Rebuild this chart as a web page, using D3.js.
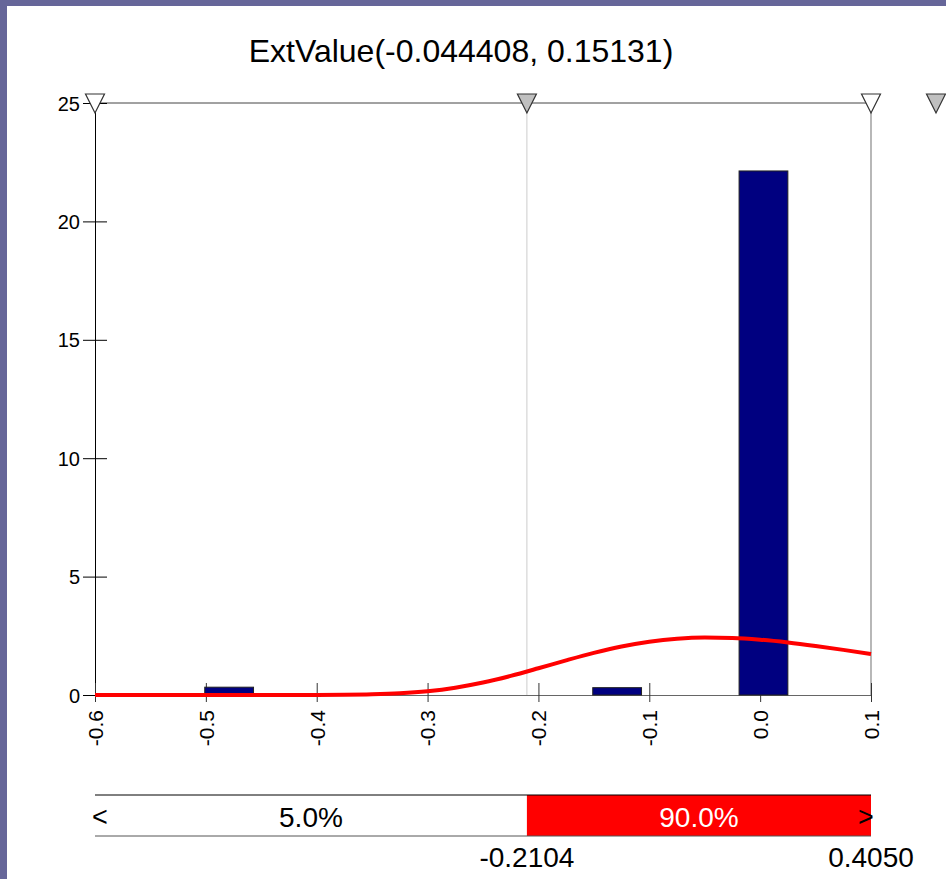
<!DOCTYPE html>
<html>
<head>
<meta charset="utf-8">
<script src="https://cdn.jsdelivr.net/npm/d3@7"></script>
<style>
  body { margin: 0; background: #fff; }
  text { font-family: "Liberation Sans", Arial, sans-serif; }
</style>
</head>
<body>
<div id="chart"></div>
<script>
// data
const title = "ExtValue(-0.044408, 0.15131)";

const binLo = [-0.501, -0.151, -0.019];
const binHi = [-0.457, -0.107, 0.025];
const binDensity = [0.33, 0.31, 22.13];

const curveX = [-0.6, -0.5, -0.45, -0.4, -0.375, -0.35, -0.325, -0.3, -0.275, -0.25, -0.225, -0.2,
  -0.175, -0.15, -0.125, -0.1, -0.075, -0.05, -0.025, 0, 0.025, 0.05, 0.075, 0.1];
const curveY = [0, 0, 0, 0.002, 0.008, 0.027, 0.071, 0.159, 0.308, 0.525, 0.805, 1.128,
  1.464, 1.780, 2.049, 2.252, 2.379, 2.429, 2.412, 2.338, 2.220, 2.072, 1.906, 1.731];

const yTicks = [0, 5, 10, 15, 20, 25];
const xTicks = [-0.6, -0.5, -0.4, -0.3, -0.2, -0.1, 0.0, 0.1];

const markerVals = [-0.6, -0.2104, 0.1, 0.4050];
const markerGray = [false, true, false, true];

const limLo = -0.2104, limHi = 0.4050;
const pctLabels = ["5.0%", "90.0%"];

// layout
const W = 946, H = 879;
const pLeft = 95, pRight = 871, pTop = 103, pBottom = 695;

const svg = d3.select("#chart").append("svg")
  .attr("width", W).attr("height", H);

// purple frame
svg.append("rect").attr("width", W).attr("height", H).attr("fill", "#666699");
svg.append("rect").attr("x", 7).attr("y", 6).attr("width", W - 7).attr("height", H - 6).attr("fill", "#fff");

let x = d3.scaleLinear().domain([-0.6, 0.1]).range([pLeft, pRight]);
let y = d3.scaleLinear().domain([0, 25]).range([pBottom, pTop]);
const fmt = d3.formatLocale({ decimal: ".", thousands: ",", grouping: [3], currency: ["", ""], minus: "-" }).format(".1f");

// title
svg.append("text")
  .attr("x", 461).attr("y", 62)
  .attr("text-anchor", "middle")
  .style("font-size", "32px")
  .text(title);

// top + right frame
svg.append("line").attr("x1", pLeft).attr("x2", pRight).attr("y1", pTop).attr("y2", pTop)
  .attr("stroke", "#444").attr("stroke-width", 1);
svg.append("line").attr("x1", pRight).attr("x2", pRight).attr("y1", pTop).attr("y2", pBottom)
  .attr("stroke", "#888").attr("stroke-width", 1.2);

// limit line
svg.append("line").attr("x1", x(limLo)).attr("x2", x(limLo)).attr("y1", pTop).attr("y2", pBottom)
  .attr("stroke", "#cccccc").attr("stroke-width", 1);

// Y AXIS
const yAxis = svg.append("g")
  .attr("transform", `translate(${pLeft},0)`)
  .call(d3.axisLeft(y).tickValues(yTicks).tickSizeOuter(0).tickFormat(d3.format("d")));
yAxis.select(".domain").attr("stroke", "#000");
yAxis.selectAll(".tick line").attr("x1", -12).attr("x2", 12).attr("stroke", "#000");
yAxis.selectAll(".tick text").attr("x", -15).attr("dy", "0.35em")
  .style("font-size", "20px").attr("fill", "#000");

// X AXIS
const xAxis = svg.append("g")
  .attr("transform", `translate(0,${pBottom})`)
  .call(d3.axisBottom(x).tickValues(xTicks).tickSizeOuter(0).tickFormat(fmt));
xAxis.select(".domain").attr("stroke", "#666");
xAxis.selectAll(".tick line").attr("y1", -12).attr("y2", 7).attr("stroke", "#333");
xAxis.selectAll(".tick text")
  .attr("transform", "rotate(-90)")
  .attr("x", -15).attr("y", 0).attr("dy", "0.35em")
  .attr("text-anchor", "end")
  .style("font-size", "21px").attr("fill", "#000");

// BARS
svg.append("g").selectAll("rect")
  .data(binDensity)
  .join("rect")
  .attr("x", (d, i) => x(binLo[i]))
  .attr("width", (d, i) => x(binHi[i]) - x(binLo[i]))
  .attr("y", d => y(d))
  .attr("height", d => y(0) - y(d))
  .attr("fill", "#000080")
  .attr("stroke", "#222")
  .attr("stroke-width", 1);

// CURVE
svg.append("path")
  .datum(curveX.map((v, i) => [v, curveY[i]]))
  .attr("fill", "none")
  .attr("stroke", "#ff0000")
  .attr("stroke-width", 4)
  .attr("d", d3.line().x(d => x(d[0])).y(d => y(d[1])).curve(d3.curveMonotoneX));

// MARKERS
const tri = 9.5;
svg.append("g").selectAll("path")
  .data(markerVals)
  .join("path")
  .attr("d", v => {
    const cx = v > 0.1 ? pRight + 65 : x(v);
    return `M${cx - tri},94 L${cx + tri},94 L${cx},113 Z`;
  })
  .attr("fill", (v, i) => markerGray[i] ? "#c0c0c0" : "#fff")
  .attr("stroke", "#333")
  .attr("stroke-width", 1.2);

// BOTTOM PERCENT BAR
const barTop = 795, barBot = 836;
const xc = d3.scaleLinear().domain([-0.6, 0.1]).range([pLeft, pRight]).clamp(true);
svg.append("rect")
  .attr("x", xc(limLo)).attr("y", barTop)
  .attr("width", xc(limHi) - xc(limLo)).attr("height", barBot - barTop)
  .attr("fill", "#ff0000");
svg.append("line").attr("x1", pLeft).attr("x2", pRight).attr("y1", barTop).attr("y2", barTop)
  .attr("stroke", "#000");
svg.append("line").attr("x1", pLeft).attr("x2", pRight).attr("y1", barBot).attr("y2", barBot)
  .attr("stroke", "#555");

svg.append("text").attr("x", 100).attr("y", 826).attr("text-anchor", "middle")
  .style("font-size", "27px").text("<");
svg.append("text").attr("x", 866).attr("y", 826).attr("text-anchor", "middle")
  .style("font-size", "27px").text(">");
svg.append("text").attr("x", (pLeft + xc(limLo)) / 2).attr("y", 827).attr("text-anchor", "middle")
  .style("font-size", "28px").text(pctLabels[0]);
svg.append("text").attr("x", (xc(limLo) + xc(limHi)) / 2).attr("y", 827).attr("text-anchor", "middle")
  .style("font-size", "28px").attr("fill", "#fff").text(pctLabels[1]);

// limit values
svg.append("text").attr("x", xc(limLo)).attr("y", 867).attr("text-anchor", "middle")
  .style("font-size", "28px").text(limLo.toFixed(4));
svg.append("text").attr("x", xc(limHi)).attr("y", 867).attr("text-anchor", "middle")
  .style("font-size", "28px").text(limHi.toFixed(4));
</script>
</body>
</html>
